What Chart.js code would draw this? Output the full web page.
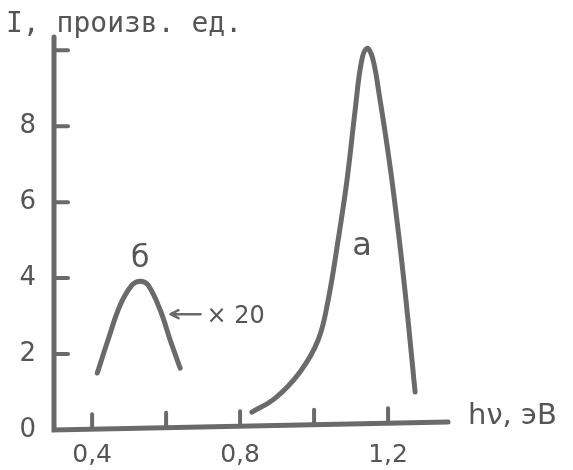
<!DOCTYPE html>
<html>
<head>
<meta charset="utf-8">
<script src="https://cdn.jsdelivr.net/npm/chart.js@4.4.1/dist/chart.umd.min.js"></script>
<style>
  html, body { margin: 0; padding: 0; background: #fff; }
  #wrap { width: 573px; height: 470px; }
</style>
</head>
<body>
<div id="wrap"><canvas id="spectrum"></canvas></div>
<script>
// кривая а (hν, эВ ; I)
const curveAx = [0.832, 0.895, 0.962, 1.011, 1.038, 1.065, 1.089, 1.111, 1.128, 1.143, 1.158, 1.175, 1.205, 1.232, 1.254, 1.273];
const curveAy = [0.47, 0.84, 1.53, 2.37, 3.42, 5.00, 6.58, 8.42, 9.70, 10.05, 9.80, 8.90, 6.97, 4.87, 2.89, 1.00];
// кривая б (x20)
const curveBx = [0.414, 0.443, 0.476, 0.508, 0.530, 0.551, 0.584, 0.611, 0.638];
const curveBy = [1.50, 2.37, 3.29, 3.82, 3.92, 3.82, 3.16, 2.37, 1.63];

const xTicks = [0.4, 0.6, 0.8, 1.0, 1.2];
const xTickLabels = ['0,4', '', '0,8', '', '1,2'];
const yTicks = [0, 2, 4, 6, 8, 10];
const yTickLabels = ['0', '2', '4', '6', '8', ''];

const ink = '#6a6a6a';
const textInk = '#555';

function toPoints(xs, ys) {
    return xs.map((x, i) => ({ x: x, y: ys[i] }));
}

// оси, внутренние засечки и надписи
const axesPlugin = {
    id: 'handAxes',
    afterDraw(chart) {
        const ctx = chart.ctx;
        const xs = chart.scales.x;
        const ys = chart.scales.y;
        const area = chart.chartArea;
        ctx.save();
        ctx.strokeStyle = ink;
        ctx.lineWidth = 5;
        ctx.lineCap = 'round';
        ctx.beginPath();
        ctx.moveTo(area.left, area.top);
        ctx.lineTo(area.left, area.bottom);
        ctx.lineTo(area.right, area.bottom - 8);
        ctx.stroke();

        ctx.lineWidth = 4;
        xTicks.forEach(v => {
            const px = xs.getPixelForValue(v);
            const base = area.bottom - 8 * (px - area.left) / (area.right - area.left);
            ctx.beginPath();
            ctx.moveTo(px, base);
            ctx.lineTo(px, base - 15);
            ctx.stroke();
        });
        yTicks.slice(1).forEach(v => {
            const py = ys.getPixelForValue(v);
            ctx.beginPath();
            ctx.moveTo(area.left, py);
            ctx.lineTo(area.left + 14, py);
            ctx.stroke();
        });

        // стрелка к кривой б
        const ax = xs.getPixelForValue(0.612);
        const ay = ys.getPixelForValue(3.05);
        ctx.lineWidth = 2.5;
        ctx.beginPath();
        ctx.moveTo(ax, ay);
        ctx.lineTo(ax + 30, ay);
        ctx.moveTo(ax, ay);
        ctx.lineTo(ax + 8, ay - 4);
        ctx.moveTo(ax, ay);
        ctx.lineTo(ax + 8, ay + 4);
        ctx.stroke();

        ctx.fillStyle = textInk;
        ctx.textBaseline = 'alphabetic';
        ctx.font = '28px "DejaVu Sans Mono"';
        ctx.fillText('I, произв. ед.', 6, 32);
        ctx.font = '29px "DejaVu Sans"';
        ctx.fillText('hν, эВ', 468, 424);
        ctx.textAlign = 'center';
        ctx.font = '32px "DejaVu Sans"';
        ctx.fillText('а', xs.getPixelForValue(1.13), ys.getPixelForValue(4.6));
        ctx.font = '30px "DejaVu Sans"';
        ctx.fillText('б', xs.getPixelForValue(0.530), ys.getPixelForValue(4.3));
        ctx.textAlign = 'left';
        ctx.font = '24px "DejaVu Sans"';
        ctx.fillText('× 20', ax + 36, ay + 9);
        ctx.restore();
    }
};

new Chart(document.getElementById('spectrum'), {
    type: 'scatter',
    data: {
        datasets: [
            { data: toPoints(curveAx, curveAy) },
            { data: toPoints(curveBx, curveBy) }
        ]
    },
    options: {
        responsive: true,
        maintainAspectRatio: false,
        animation: false,
        layout: { padding: { left: 0, right: 125, top: 37, bottom: 0 } },
        elements: {
            point: { radius: 0 },
            line: { borderColor: ink, borderWidth: 5, borderCapStyle: 'round', borderJoinStyle: 'round', tension: 0.4 }
        },
        datasets: { scatter: { showLine: true } },
        plugins: { legend: { display: false }, tooltip: { enabled: false } },
        scales: {
            x: {
                type: 'linear',
                min: 0.297,
                max: 1.362,
                grid: { display: false, drawTicks: false },
                border: { display: false },
                afterFit(scale) { scale.height = 40; },
                afterBuildTicks(scale) { scale.ticks = xTicks.map(v => ({ value: v })); },
                ticks: {
                    padding: 10,
                    color: textInk,
                    font: { family: 'DejaVu Sans', size: 25 },
                    callback: (v, i) => xTickLabels[i]
                }
            },
            y: {
                type: 'linear',
                min: 0,
                max: 10.35,
                grid: { display: false, drawTicks: false },
                border: { display: false },
                afterFit(scale) { scale.width = 54; },
                afterBuildTicks(scale) { scale.ticks = yTicks.map(v => ({ value: v })); },
                ticks: {
                    padding: 18,
                    color: textInk,
                    font: { family: 'DejaVu Sans', size: 26 },
                    callback: (v, i) => yTickLabels[i]
                }
            }
        }
    },
    plugins: [axesPlugin]
});
</script>
</body>
</html>
